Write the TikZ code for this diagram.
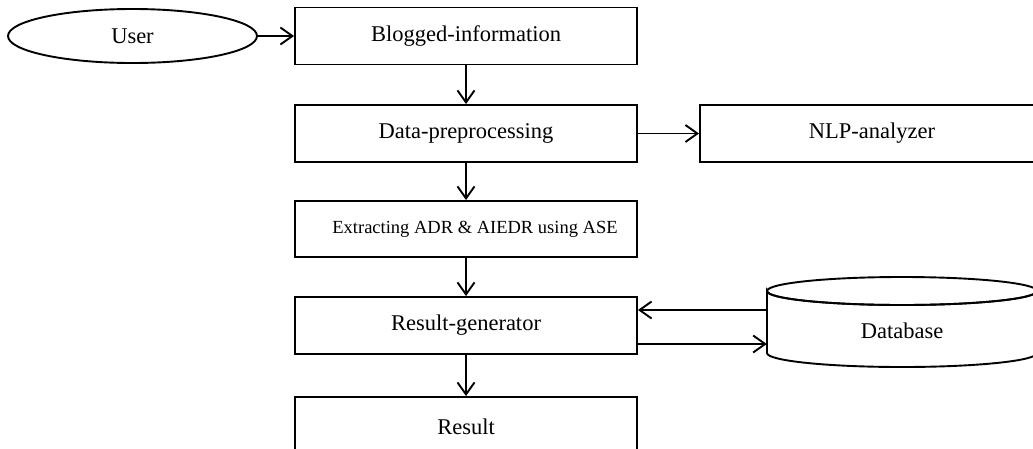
\documentclass[tikz,border=0pt]{standalone}
\usepackage{fontspec}
\setmainfont{Liberation Serif}
\usetikzlibrary{arrows.meta,shapes.geometric}
\begin{document}
\begin{tikzpicture}[x=1pt,y=-1pt,
  lw/.style={line width=1.9pt},
  stepbox/.style={draw,lw,rectangle,minimum width=342pt,minimum height=57pt,
    inner sep=0pt,font=\fontsize{22.5}{26}\selectfont},
  arr/.style={lw,-{Straight Barb[length=12pt,width=17pt,line width=1.9pt]}},
]
\useasboundingbox (0,0) rectangle (1033,448);
\clip (0,0) rectangle (1033,448);
\fill[white] (0,0) rectangle (1033,448);

% user and the processing chain
\node[draw,lw,ellipse,minimum width=249pt,minimum height=54pt,inner sep=0pt,
  font=\fontsize{22.5}{26}\selectfont] (user) at (132.5,36) {User};
\node[stepbox] (blog) at (466,36) {Blogged-information};
\node[stepbox] (pre) at (466,133.5) {Data-preprocessing};
\node[stepbox,minimum width=344pt] (nlp) at (872,133.5) {NLP-analyzer};
\node[stepbox,minimum height=56pt] (ext) at (466,229) {};
\node[font=\fontsize{18.5}{22}\selectfont] (extlabel) at (475,229) {Extracting ADR \& AIEDR using ASE};
\node[stepbox] (gen) at (466,325.5) {Result-generator};
\node[stepbox,minimum height=60pt] (res) at (466,427) {Result};

% database cylinder
\node[minimum width=270pt,minimum height=90pt,inner sep=0pt] (db) at (902,322) {};
\draw[lw,fill=white] (767,291)
  arc[start angle=180,end angle=360,x radius=135pt,y radius=14pt]
  -- (1037,353)
  arc[start angle=360,end angle=180,x radius=135pt,y radius=14pt]
  -- cycle;
\draw[lw] (902,291) ellipse [x radius=135pt,y radius=14pt];
\node[font=\fontsize{22.5}{26}\selectfont] (dblabel) at (902,331) {Database};

% connectors
\draw[arr] (user.east) -- (blog.west);
\draw[arr] (blog.south) -- (pre.north);
\draw[arr] (pre.east) -- (nlp.west);
\draw[arr] (pre.south) -- (ext.north);
\draw[arr] (ext.south) -- (gen.north);
\draw[arr] (db.west |- 0,310) -- (gen.east |- 0,310);
\draw[arr] (gen.east |- 0,344) -- (db.west |- 0,344);
\draw[arr] (gen.south) -- (res.north);
\end{tikzpicture}
\end{document}
